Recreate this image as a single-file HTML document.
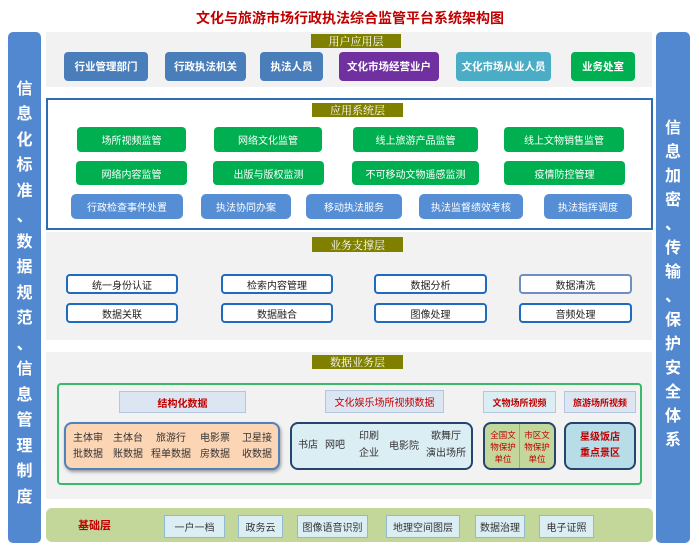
<!DOCTYPE html>
<html><head><meta charset="utf-8"><style>
*{margin:0;padding:0;box-sizing:border-box}
body{width:700px;height:550px;background:#fff;position:relative;overflow:hidden;font-family:"Liberation Sans","Noto Sans CJK SC",sans-serif}
div{position:absolute}
.c{display:flex;align-items:center;justify-content:center;text-align:center}
.title{left:0;width:700px;top:8px;font-size:14px;font-weight:bold;color:#c00000;text-align:center}
.bar{background:#5288d0;border-radius:5px;color:#fff;font-weight:bold;font-size:16px;text-align:center}
.bar span{position:absolute;left:0;width:100%}
.bg{background:#f2f2f2}
.lbl{background:#808000;color:#fff;font-size:11px;font-family:"Noto Serif CJK SC",serif}
.u{color:#fff;font-weight:bold;font-size:10.5px;border-radius:4px;top:52px;height:29px}
.g{background:#00b050;color:#fff;font-size:10px;border-radius:4px}
.b{background:#558ed5;color:#fff;font-size:10px;border-radius:5px}
.s{background:#fff;border:2px solid #1f6bc0;border-radius:4px;font-size:10px;color:#222;height:20px}
.h{background:#dce6f2;border:1px solid #b3c6e0;color:#c00000;font-size:10px}
.f{background:#dbeef4;border:1px solid #93b9cf;font-size:10px;color:#333;top:515px;height:23px}
</style></head><body>
<div class="title">文化与旅游市场行政执法综合监管平台系统架构图</div>

<div class="bar" style="left:8px;top:32px;width:33px;height:511px">
<span style="top:43px">信</span><span style="top:68px">息</span><span style="top:94px">化</span><span style="top:119px">标</span><span style="top:145px">准</span><span style="top:170px">、</span><span style="top:196px">数</span><span style="top:221px">据</span><span style="top:247px">规</span><span style="top:272px">范</span><span style="top:298px">、</span><span style="top:323px">信</span><span style="top:349px">息</span><span style="top:374px">管</span><span style="top:400px">理</span><span style="top:425px">制</span><span style="top:451px">度</span>
</div>
<div class="bar" style="left:656px;top:32px;width:34px;height:511px">
<span style="top:82px">信</span><span style="top:106px">息</span><span style="top:130px">加</span><span style="top:154px">密</span><span style="top:178px">、</span><span style="top:202px">传</span><span style="top:226px">输</span><span style="top:250px">、</span><span style="top:274px">保</span><span style="top:298px">护</span><span style="top:322px">安</span><span style="top:346px">全</span><span style="top:370px">体</span><span style="top:394px">系</span>
</div>

<!-- user layer -->
<div class="bg" style="left:46px;top:32px;width:606px;height:55px"></div>
<div class="lbl c" style="left:311px;top:34px;width:90px;height:14px">用户应用层</div>
<div class="u c" style="left:64px;width:84px;background:#4a7ebb">行业管理部门</div>
<div class="u c" style="left:165px;width:81px;background:#4a7ebb">行政执法机关</div>
<div class="u c" style="left:260px;width:63px;background:#4a7ebb">执法人员</div>
<div class="u c" style="left:339px;width:100px;background:#7030a0">文化市场经营业户</div>
<div class="u c" style="left:456px;width:95px;background:#4bacc6">文化市场从业人员</div>
<div class="u c" style="left:571px;width:64px;background:#00b050">业务处室</div>

<!-- app layer -->
<div style="left:46px;top:98px;width:607px;height:132px;border:2px solid #2e6db4;background:#fff"></div>
<div class="lbl c" style="left:312px;top:103px;width:91px;height:14px">应用系统层</div>
<div class="g c" style="left:77px;top:127px;width:109px;height:25px">场所视频监管</div>
<div class="g c" style="left:214px;top:127px;width:108px;height:25px">网络文化监管</div>
<div class="g c" style="left:353px;top:127px;width:125px;height:25px">线上旅游产品监管</div>
<div class="g c" style="left:504px;top:127px;width:120px;height:25px">线上文物销售监管</div>
<div class="g c" style="left:76px;top:161px;width:111px;height:24px">网络内容监管</div>
<div class="g c" style="left:213px;top:161px;width:111px;height:24px">出版与版权监测</div>
<div class="g c" style="left:352px;top:161px;width:127px;height:24px">不可移动文物遥感监测</div>
<div class="g c" style="left:504px;top:161px;width:121px;height:24px">疫情防控管理</div>
<div class="b c" style="left:71px;top:194px;width:112px;height:25px">行政检查事件处置</div>
<div class="b c" style="left:201px;top:194px;width:90px;height:25px">执法协同办案</div>
<div class="b c" style="left:306px;top:194px;width:96px;height:25px">移动执法服务</div>
<div class="b c" style="left:419px;top:194px;width:104px;height:25px">执法监督绩效考核</div>
<div class="b c" style="left:544px;top:194px;width:88px;height:25px">执法指挥调度</div>

<!-- support layer -->
<div class="bg" style="left:46px;top:232px;width:606px;height:108px"></div>
<div class="lbl c" style="left:312px;top:237px;width:91px;height:15px">业务支撑层</div>
<div class="s c" style="left:66px;top:274px;width:112px">统一身份认证</div>
<div class="s c" style="left:221px;top:274px;width:112px">检索内容管理</div>
<div class="s c" style="left:374px;top:274px;width:113px">数据分析</div>
<div class="s c" style="left:519px;top:274px;width:113px;border-color:#6f8fc4">数据清洗</div>
<div class="s c" style="left:66px;top:303px;width:112px">数据关联</div>
<div class="s c" style="left:221px;top:303px;width:112px">数据融合</div>
<div class="s c" style="left:374px;top:303px;width:113px">图像处理</div>
<div class="s c" style="left:519px;top:303px;width:113px">音频处理</div>

<!-- data layer -->
<div class="bg" style="left:46px;top:352px;width:606px;height:147px"></div>
<div class="lbl c" style="left:312px;top:355px;width:91px;height:14px">数据业务层</div>
<div style="left:57px;top:383px;width:585px;height:102px;border:2px solid #3cb86a;border-radius:4px"></div>
<div class="h c" style="left:119px;top:391px;width:127px;height:22px;font-weight:bold">结构化数据</div>
<div class="h c" style="left:325px;top:390px;width:119px;height:23px">文化娱乐场所视频数据</div>
<div class="h c" style="left:483px;top:391px;width:73px;height:22px;font-size:9px;font-weight:bold;background:#dbeef4">文物场所视频</div>
<div class="h c" style="left:564px;top:391px;width:72px;height:22px;font-size:9px;font-weight:bold">旅游场所视频</div>

<div style="left:64px;top:422px;width:216px;height:48px;background:#fcd5b5;border:2px solid #4f81bd;border-radius:8px;box-shadow:1px 2px 3px #999;font-size:10px;color:#333;line-height:16px">
<div style="left:6px;top:7px;width:32px;text-align:center">主体审<br>批数据</div>
<div style="left:46px;top:7px;width:32px;text-align:center">主体台<br>账数据</div>
<div style="left:84px;top:7px;width:42px;text-align:center">旅游行<br>程单数据</div>
<div style="left:132px;top:7px;width:34px;text-align:center">电影票<br>房数据</div>
<div style="left:174px;top:7px;width:34px;text-align:center">卫星接<br>收数据</div>
</div>
<div style="left:290px;top:422px;width:183px;height:48px;background:#dbeef4;border:2px solid #24456e;border-radius:8px;font-size:10px;color:#333;line-height:17px">
<div style="left:6px;top:13px">书店</div>
<div style="left:33px;top:13px">网吧</div>
<div style="left:67px;top:4px;text-align:center">印刷<br>企业</div>
<div style="left:97px;top:14px">电影院</div>
<div style="left:134px;top:4px;text-align:center">歌舞厅<br>演出场所</div>
</div>
<div style="left:483px;top:422px;width:73px;height:48px;background:#c3d69b;border:2px solid #24456e;border-radius:8px;overflow:hidden;font-size:8.5px;color:#c00000;line-height:12px">
<div style="left:34px;top:0;width:1px;height:48px;background:#9bb06a"></div>
<div style="left:2px;top:5px;width:32px;text-align:center">全国文<br>物保护<br>单位</div>
<div style="left:36px;top:5px;width:32px;text-align:center">市区文<br>物保护<br>单位</div>
</div>
<div class="c" style="left:564px;top:422px;width:72px;height:48px;background:#b7dde8;border:2px solid #24456e;border-radius:8px;font-size:10px;color:#c00000;font-weight:bold;line-height:16px">星级饭店<br>重点景区</div>

<!-- base layer -->
<div style="left:46px;top:508px;width:607px;height:34px;background:#c4d79b;border-radius:6px"></div>
<div style="left:78px;top:517px;font-size:11px;font-weight:bold;color:#c00000">基础层</div>
<div class="f c" style="left:164px;width:61px">一户一档</div>
<div class="f c" style="left:238px;width:45px">政务云</div>
<div class="f c" style="left:297px;width:71px">图像语音识别</div>
<div class="f c" style="left:386px;width:74px">地理空间图层</div>
<div class="f c" style="left:475px;width:50px">数据治理</div>
<div class="f c" style="left:539px;width:55px">电子证照</div>
</body></html>
